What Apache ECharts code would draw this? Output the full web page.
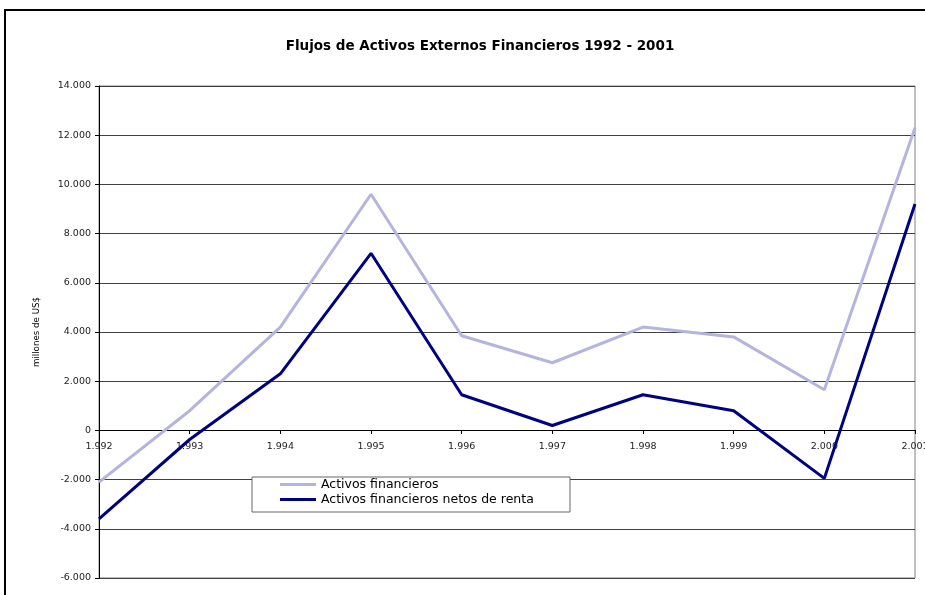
<!DOCTYPE html>
<html>
<head>
<meta charset="utf-8">
<script src="https://cdn.jsdelivr.net/npm/echarts@6/dist/echarts.min.js"></script>
<style>
html,body{margin:0;padding:0;background:#fff;}
#chart{width:925px;height:595px;}
</style>
</head>
<body>
<div id="chart"></div>
<script>
const categories = ['1.992','1.993','1.994','1.995','1.996','1.997','1.998','1.999','2.000','2.001'];
const activosFinancieros = [-2100, 800, 4200, 9600, 3850, 2750, 4200, 3800, 1650, 12300];
const activosNetosRenta = [-3600, -370, 2300, 7200, 1450, 200, 1450, 800, -1950, 9200];
const seriesNames = ['Activos financieros', 'Activos financieros netos de renta'];
const titleText = 'Flujos de Activos Externos Financieros 1992 - 2001';
const yAxisName = 'millones de US$';

function fmt(v){
  const s = Math.abs(v).toString().replace(/\B(?=(\d{3})+(?!\d))/g, '.');
  return (v < 0 ? '-' : '') + s;
}

const chart = echarts.init(document.getElementById('chart'), null, {renderer:'canvas'});
chart.setOption({
  animation:false,
  backgroundColor:'#ffffff',
  title:{
    text:titleText,
    left:475, textAlign:'center', top:34,
    textStyle:{fontFamily:'DejaVu Sans', fontWeight:'bold', fontSize:13.5, color:'#000'}
  },
  graphic:[
    {type:'rect', z:-10, shape:{x:5, y:10, width:960, height:620}, style:{fill:'none', stroke:'#000', lineWidth:2}},
    {type:'rect', z:50, shape:{x:252, y:477, width:318, height:35}, style:{fill:'#fff', stroke:'#666', lineWidth:1}}
  ],
  legend:{
    orient:'vertical', left:280, top:478, padding:0, itemGap:2,
    icon:'rect', itemWidth:36, itemHeight:3, z:60,
    textStyle:{fontFamily:'DejaVu Sans', fontSize:12.5, color:'#000'},
    data:seriesNames
  },
  grid:{left:99, right:10, top:86, bottom:17, show:true, borderColor:'#808080', borderWidth:1,
        containLabel:false, outerBoundsMode:'none'},
  xAxis:{
    type:'category', data:categories, boundaryGap:false, position:'bottom', offset:-148,
    axisLine:{onZero:false, lineStyle:{color:'#000', width:1}},
    axisTick:{show:true, inside:false, length:4, alignWithLabel:true, lineStyle:{color:'#000'}},
    axisLabel:{fontFamily:'DejaVu Sans', fontSize:9.5, color:'#222', margin:12, interval:0, hideOverlap:false},
    splitLine:{show:false}
  },
  yAxis:{
    type:'value', min:-6000, max:14000, interval:2000,
    name:yAxisName, nameLocation:'middle', nameRotate:90, nameGap:58,
    nameTextStyle:{fontFamily:'DejaVu Sans', fontSize:8.7, color:'#000'},
    axisLine:{show:true, lineStyle:{color:'#000', width:1}},
    axisTick:{show:true, length:4, lineStyle:{color:'#000'}},
    axisLabel:{fontFamily:'DejaVu Sans', fontSize:9.5, color:'#222', margin:8, formatter:fmt},
    splitLine:{show:true, lineStyle:{color:'#404040', width:1}}
  },
  series:[
    {name:seriesNames[0], type:'line', data:activosFinancieros, symbol:'none', z:3,
     lineStyle:{color:'#b4b4de', width:3}, itemStyle:{color:'#b4b4de'}},
    {name:seriesNames[1], type:'line', data:activosNetosRenta, symbol:'none', z:4,
     lineStyle:{color:'#000080', width:3}, itemStyle:{color:'#000080'}}
  ]
});
</script>
</body>
</html>
